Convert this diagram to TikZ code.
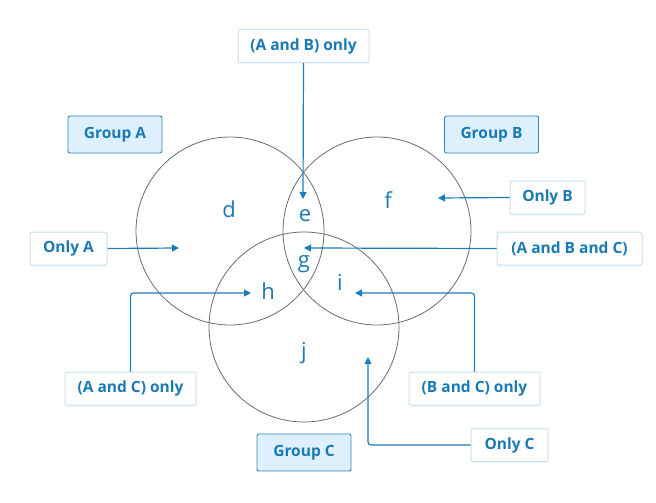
\documentclass[tikz,border=0pt]{standalone}
\usepackage{fontspec}
\setmainfont{Open Sans}
\usetikzlibrary{arrows.meta,shadows,calc}
\definecolor{txtblue}{HTML}{1A7AB6}
\definecolor{lnblue}{HTML}{1C7DBB}
\definecolor{bxborder}{HTML}{C9E1F2}
\definecolor{grpfill}{HTML}{DDF0FC}
\definecolor{grpborder}{HTML}{2F86C0}
\definecolor{circgray}{HTML}{676B7A}
\tikzset{
  lbox/.style={draw=bxborder, line width=1pt, fill=white, rounded corners=2pt,
    text=txtblue, font=\fontsize{15.5}{18}\selectfont\bfseries, inner sep=0pt,
    minimum height=33pt, drop shadow={opacity=0.06, shadow xshift=0pt, shadow yshift=-2pt}},
  gbox/.style={draw=grpborder, line width=0.9pt, fill=grpfill, rounded corners=2pt,
    text=txtblue, font=\fontsize{15.5}{18}\selectfont\bfseries, inner sep=0pt,
    minimum height=37pt, minimum width=94pt},
  vc/.style={draw=circgray, line width=0.8pt},
  letter/.style={text=txtblue, font=\fontsize{22}{26}\selectfont},
  conn/.style={draw=lnblue, line width=1.2pt, rounded corners=3pt,
    -{Triangle[length=7pt,width=7pt]}}
}
\begin{document}
\begin{tikzpicture}[x=1pt,y=-1pt]
\useasboundingbox (0,0) rectangle (656,503);
% circles
\draw[vc] (230,231) circle (94);
\draw[vc] (377,231) circle (94);
\draw[vc] (304,327) circle (95);
% region letters
\node[letter] (d) at (229,209) {d};
\node[letter] (e) at (305,216) {e};
\node[letter] (f) at (388,200) {f};
\node[letter] (g) at (304,264) {g};
\node[letter] (h) at (268,291) {h};
\node[letter] (i) at (340,282) {i};
\node[letter] (j) at (304,353) {j};
% target coordinates
\coordinate (tAB) at (303,199);
\coordinate (tA) at (179,248);
\coordinate (tB) at (438,198);
\coordinate (tABC) at (304,248);
\coordinate (tAC) at (251,293);
\coordinate (tBC) at (355,293);
\coordinate (tC) at (368,357);
% boxes
\node[lbox, minimum width=131pt] (bAB) at (303.5,46) {(A and B) only};
\node[gbox] (gA) at (115,134.5) {Group A};
\node[gbox] (gB) at (491.5,134.5) {Group B};
\node[lbox, minimum width=77pt] (bA) at (68.5,248.5) {Only A};
\node[lbox, minimum width=75pt] (bB) at (547.5,197.5) {Only B};
\node[lbox, minimum width=145pt] (bABC) at (569.5,248.5) {(A and B and C)};
\node[lbox, minimum width=131pt] (bAC) at (130.5,388.5) {(A and C) only};
\node[lbox, minimum width=131pt] (bBC) at (474.5,388.5) {(B and C) only};
\node[gbox] (gC) at (304,452.5) {Group C};
\node[lbox, minimum width=77pt] (bC) at (509.5,445) {Only C};
% connectors
\draw[conn] (bAB.south) -- (tAB);
\draw[conn] (bA.east) -- (tA);
\draw[conn] (bB.west) -- (tB);
\draw[conn] (bABC.west) -- (tABC);
\draw[conn] (bAC.north) |- (tAC);
\draw[conn] (bBC.north) |- (tBC);
\draw[conn] (bC.west) -| (tC);
\end{tikzpicture}
\end{document}
